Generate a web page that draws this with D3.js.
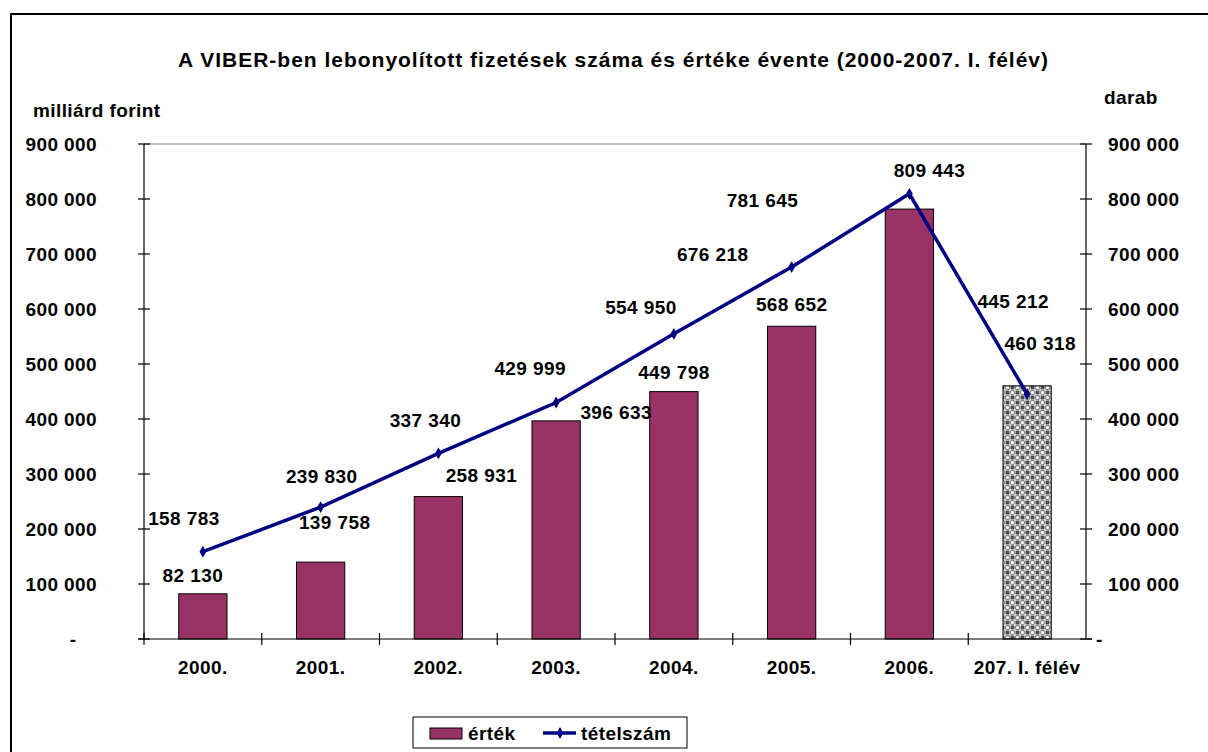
<!DOCTYPE html>
<html>
<head>
<meta charset="utf-8">
<script src="https://cdn.jsdelivr.net/npm/d3@7"></script>
<style>
  body { margin: 0; background: #fff; }
  text { font-family: "Liberation Sans", Arial, sans-serif; font-weight: bold; fill: #000;
         font-size: 19px; letter-spacing: 0.4px; }
</style>
</head>
<body>
<svg id="chart" width="1208" height="752"></svg>
<script>
// Years (last one is the first half of 2007, label kept as printed)
const years = ["2000.", "2001.", "2002.", "2003.", "2004.", "2005.", "2006.", "207. I. félév"]
// Value of payments, billion forint (bars)
const ertek = [82130, 139758, 258931, 396633, 449798, 568652, 781645, 460318]
// Number of transactions (line)
const tetelszam = [158783, 239830, 337340, 429999, 554950, 676218, 809443, 445212]
const yTicks = [0, 100000, 200000, 300000, 400000, 500000, 600000, 700000, 800000, 900000]

// Hand placed label nudges (pixels from the bar top / point centre), like in the original sheet
const barLabelNudge = [[-10, -19], [14, -40], [43, -22], [60, -9], [0, -20], [0, -22], [-147, -9], [13, -43]]
const lineLabelNudge = [[-19, -34], [1, -31], [-13, -33], [-26, -35], [-33, -27], [-79, -13], [20, -24], [-14, -93]]

const svg = d3.select("#chart")
const fmt = v => v === 0 ? "-" : d3.format(",")(v).replace(/,/g, " ")

// outer frame (only top and left edges are inside the picture)
svg.append("rect").attr("x", 11).attr("y", 14).attr("width", 1210).attr("height", 760)
  .attr("fill", "none").attr("stroke", "#000").attr("stroke-width", 2)

const plotL = 144, plotR = 1086, plotT = 144, plotB = 639

const x = d3.scaleBand().domain(years).range([plotL, plotR])
const y = d3.scaleLinear().domain([0, 900000]).range([plotB, plotT])

// pattern for the half-year bar
const defs = svg.append("defs")
const pat = defs.append("pattern").attr("id", "checks").attr("patternUnits", "userSpaceOnUse")
  .attr("width", 10).attr("height", 10)
pat.append("rect").attr("width", 10).attr("height", 10).attr("fill", "#fff")
pat.append("rect").attr("x", 5.5).attr("y", 0.5).attr("width", 4).attr("height", 4).attr("fill", "#4d4d4d")
pat.append("rect").attr("x", 0.5).attr("y", 5.5).attr("width", 4).attr("height", 4).attr("fill", "#4d4d4d")
pat.append("circle").attr("cx", 2.5).attr("cy", 2.5).attr("r", 2.2).attr("fill", "#fff").attr("stroke", "#888").attr("stroke-width", 1.2)
pat.append("circle").attr("cx", 7.5).attr("cy", 7.5).attr("r", 2.2).attr("fill", "#fff").attr("stroke", "#888").attr("stroke-width", 1.2)

// title
svg.append("text").attr("x", 178).attr("y", 67)
  .attr("textLength", 870).attr("lengthAdjust", "spacing")
  .style("font-size", "21px").style("letter-spacing", "0px")
  .text("A VIBER-ben lebonyolított fizetések száma és értéke évente (2000-2007. I. félév)")
svg.append("text").attr("x", 33).attr("y", 117).text("milliárd forint")
svg.append("text").attr("x", 1104).attr("y", 104).text("darab")

// plot area top border
svg.append("line").attr("x1", plotL).attr("x2", plotR).attr("y1", plotT).attr("y2", plotT)
  .attr("stroke", "#808080").attr("stroke-width", 1)

// bars
const barW = x.bandwidth() * 0.41
svg.append("g").selectAll("rect").data(ertek).join("rect")
  .attr("x", (d, i) => x(years[i]) + x.bandwidth() / 2 - barW / 2)
  .attr("y", d => y(d))
  .attr("width", barW)
  .attr("height", d => plotB - y(d))
  .attr("fill", (d, i) => i === ertek.length - 1 ? "url(#checks)" : "#993366")
  .attr("stroke", "#000").attr("stroke-width", 1)

// axes
const tickLen = 6
const axisG = svg.append("g").attr("stroke", "#000").attr("stroke-width", 1.2)
axisG.append("line").attr("x1", plotL).attr("x2", plotL).attr("y1", plotT).attr("y2", plotB)
axisG.append("line").attr("x1", plotR).attr("x2", plotR).attr("y1", plotT).attr("y2", plotB)
axisG.append("line").attr("x1", plotL - tickLen).attr("x2", plotR + tickLen).attr("y1", plotB).attr("y2", plotB)
yTicks.forEach(t => {
  axisG.append("line").attr("x1", plotL - tickLen).attr("x2", plotL + tickLen).attr("y1", y(t)).attr("y2", y(t))
  axisG.append("line").attr("x1", plotR - tickLen).attr("x2", plotR + tickLen).attr("y1", y(t)).attr("y2", y(t))
})
years.forEach(yr => {
  const bx = x(yr)
  axisG.append("line").attr("x1", bx).attr("x2", bx).attr("y1", plotB - tickLen).attr("y2", plotB + tickLen)
})

// y tick labels, both sides
svg.append("g").selectAll("text").data(yTicks).join("text")
  .attr("x", d => d === 0 ? 73 : 97).attr("y", d => y(d) + 7)
  .attr("text-anchor", d => d === 0 ? "middle" : "end")
  .text(fmt)
svg.append("g").selectAll("text").data(yTicks).join("text")
  .attr("x", d => d === 0 ? 1096 : 1108).attr("y", d => y(d) + 7)
  .text(fmt)

// x labels
svg.append("g").selectAll("text").data(years).join("text")
  .attr("x", d => x(d) + x.bandwidth() / 2).attr("y", 674)
  .attr("text-anchor", "middle").text(d => d)

// line
const cx = i => x(years[i]) + x.bandwidth() / 2
const line = d3.line().x((d, i) => cx(i)).y(d => y(d))
svg.append("path").datum(tetelszam).attr("d", line)
  .attr("fill", "none").attr("stroke", "#000080").attr("stroke-width", 3.5).attr("stroke-linejoin", "miter")
const diamond = d3.symbol().type(d3.symbolDiamond).size(40)
svg.append("g").selectAll("path").data(tetelszam).join("path")
  .attr("transform", (d, i) => `translate(${cx(i)},${y(d)})`)
  .attr("d", diamond).attr("fill", "#000080")

// data labels
svg.append("g").selectAll("text").data(ertek).join("text")
  .attr("x", (d, i) => cx(i) + barLabelNudge[i][0])
  .attr("y", (d, i) => y(d) + barLabelNudge[i][1] + 7)
  .attr("text-anchor", "middle").text(fmt)
svg.append("g").selectAll("text").data(tetelszam).join("text")
  .attr("x", (d, i) => cx(i) + lineLabelNudge[i][0])
  .attr("y", (d, i) => y(d) + lineLabelNudge[i][1] + 7)
  .attr("text-anchor", "middle").text(fmt)

// legend
const lg = svg.append("g")
lg.append("rect").attr("x", 413).attr("y", 717).attr("width", 274).attr("height", 31)
  .attr("fill", "#fff").attr("stroke", "#000").attr("stroke-width", 1)
lg.append("rect").attr("x", 430).attr("y", 728).attr("width", 32).attr("height", 11)
  .attr("fill", "#993366").attr("stroke", "#000")
lg.append("text").attr("x", 468).attr("y", 740).text("érték")
lg.append("line").attr("x1", 543).attr("x2", 576).attr("y1", 733).attr("y2", 733)
  .attr("stroke", "#000080").attr("stroke-width", 3.5)
lg.append("path").attr("transform", "translate(560,733)").attr("d", diamond).attr("fill", "#000080")
lg.append("text").attr("x", 581).attr("y", 740).text("tételszám")
</script>
</body>
</html>
